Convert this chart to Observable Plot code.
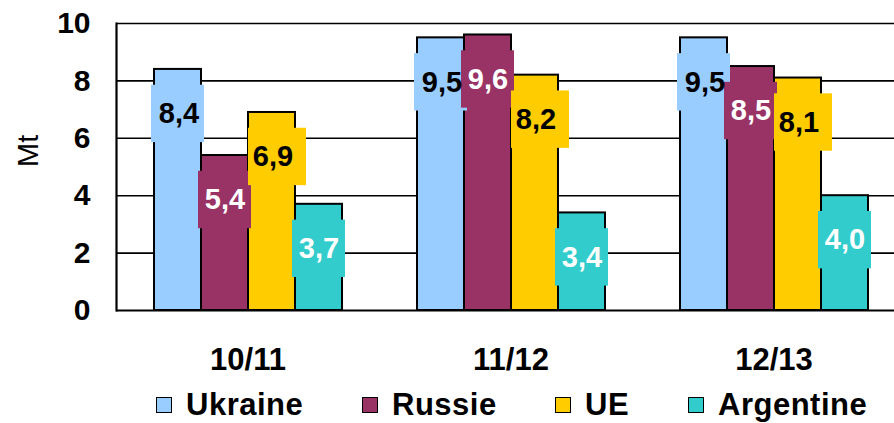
<!DOCTYPE html>
<html>
<head>
<meta charset="utf-8">
<script src="https://cdn.jsdelivr.net/npm/d3@7"></script>
<script src="https://cdn.jsdelivr.net/npm/@observablehq/plot@0.6"></script>
<style>
  html, body { margin: 0; padding: 0; background: #fff; overflow: hidden; width: 894px; height: 423px; }
  #chart svg { overflow: hidden; }
  .legend { display: flex; align-items: center; padding-left: 156px; padding-top: 8px; height: 37px;
            font-family: "Liberation Sans", Arial, sans-serif; font-weight: bold; font-size: 31px; letter-spacing: 0.5px; color: #000; }
  .legend .item { display: flex; align-items: center; flex: none; }
  .legend .sw { width: 14px; height: 14px; border: 1.5px solid #000; margin-right: 14px; flex: none; }
</style>
</head>
<body>
<div id="chart"></div>
<div class="legend" id="legend"></div>
<script>
const years = ["10/11", "11/12", "12/13"];
const countries = ["Ukraine", "Russie", "UE", "Argentine"];
const ukraine = [8.4, 9.5, 9.5];
const russie = [5.4, 9.6, 8.5];
const ue = [6.9, 8.2, 8.1];
const argentine = [3.7, 3.4, 4.0];
const colors = ["#99CCFF", "#993366", "#FFCC00", "#33CCCC"];
const yTicks = [0, 2, 4, 6, 8, 10];

const seriesValues = [ukraine, russie, ue, argentine];
const data = [];
years.forEach((yr, i) => {
  countries.forEach((c, j) => {
    data.push({year: yr, country: c, value: seriesValues[j][i]});
  });
});
const fmt = v => v.toFixed(1).replace(".", ",");
const darkText = new Set(["Ukraine", "UE"]);
const font = "'Liberation Sans', Arial, sans-serif";

const boxLow = 2.55, boxHigh = 0.55, labelPos = 1.55;

const plot = Plot.plot({
  width: 894,
  height: 378,
  marginTop: 23,
  marginBottom: 68,
  marginLeft: 116,
  marginRight: -11,
  style: {fontFamily: font, background: "#fff", color: "#000"},
  fx: {domain: years, padding: 0, label: null},
  x: {domain: countries, paddingInner: 0, paddingOuter: 0.754, axis: null},
  y: {domain: [0, 10], axis: null},
  color: {domain: countries, range: colors},
  marks: [
    Plot.ruleY([2, 4, 6, 8, 10], {stroke: "#000", strokeWidth: 1.6}),
    Plot.barY(data, {fx: "year", x: "country", y: "value", fill: "country", stroke: "#000", strokeWidth: 2}),
    Plot.barY(data.filter(d => d.country !== "UE"), {fx: "year", x: "country",
      y1: d => d.value - boxLow, y2: d => d.value - boxHigh, fill: "country", insetLeft: -3, insetRight: -3}),
    Plot.barY(data.filter(d => d.country === "UE"), {fx: "year", x: "country",
      y1: d => d.value - boxLow, y2: d => d.value - boxHigh, fill: "country", insetLeft: 0, insetRight: -11}),
    Plot.text(data.filter(d => darkText.has(d.country)), {fx: "year", x: "country", y: d => d.value - labelPos,
      text: d => fmt(d.value), fill: "#000", fontSize: 29, fontWeight: "bold", dx: 1}),
    Plot.text(data.filter(d => !darkText.has(d.country)), {fx: "year", x: "country", y: d => d.value - labelPos,
      text: d => fmt(d.value), fill: "#fff", fontSize: 29, fontWeight: "bold"}),
    Plot.ruleY([0], {stroke: "#000", strokeWidth: 2.2}),
    Plot.frame({anchor: "left", facetAnchor: "left", stroke: "#000", strokeWidth: 2.2}),
    Plot.axisY(yTicks, {anchor: "left", facetAnchor: "left", tickSize: 0, tickPadding: 26, fontSize: 30, fontWeight: "bold", label: null, tickFormat: d => String(d)}),
    Plot.text(["Mt"], {frameAnchor: "left", facetAnchor: "left", rotate: -90, dx: -88, fontSize: 29, fill: "#000"}),
    Plot.axisFx({anchor: "bottom", tickSize: 0, tickPadding: 37, fontSize: 31, fontWeight: "bold", label: null})
  ]
});
document.getElementById("chart").appendChild(plot);

const itemWidths = ["206px", "193px", "133px", "auto"];
const legend = document.getElementById("legend");
countries.forEach((c, j) => {
  const item = document.createElement("div");
  item.className = "item";
  item.style.width = itemWidths[j];
  const sw = document.createElement("div");
  sw.className = "sw";
  sw.style.background = colors[j];
  const t = document.createElement("span");
  t.textContent = c;
  item.appendChild(sw);
  item.appendChild(t);
  legend.appendChild(item);
});
</script>
</body>
</html>
